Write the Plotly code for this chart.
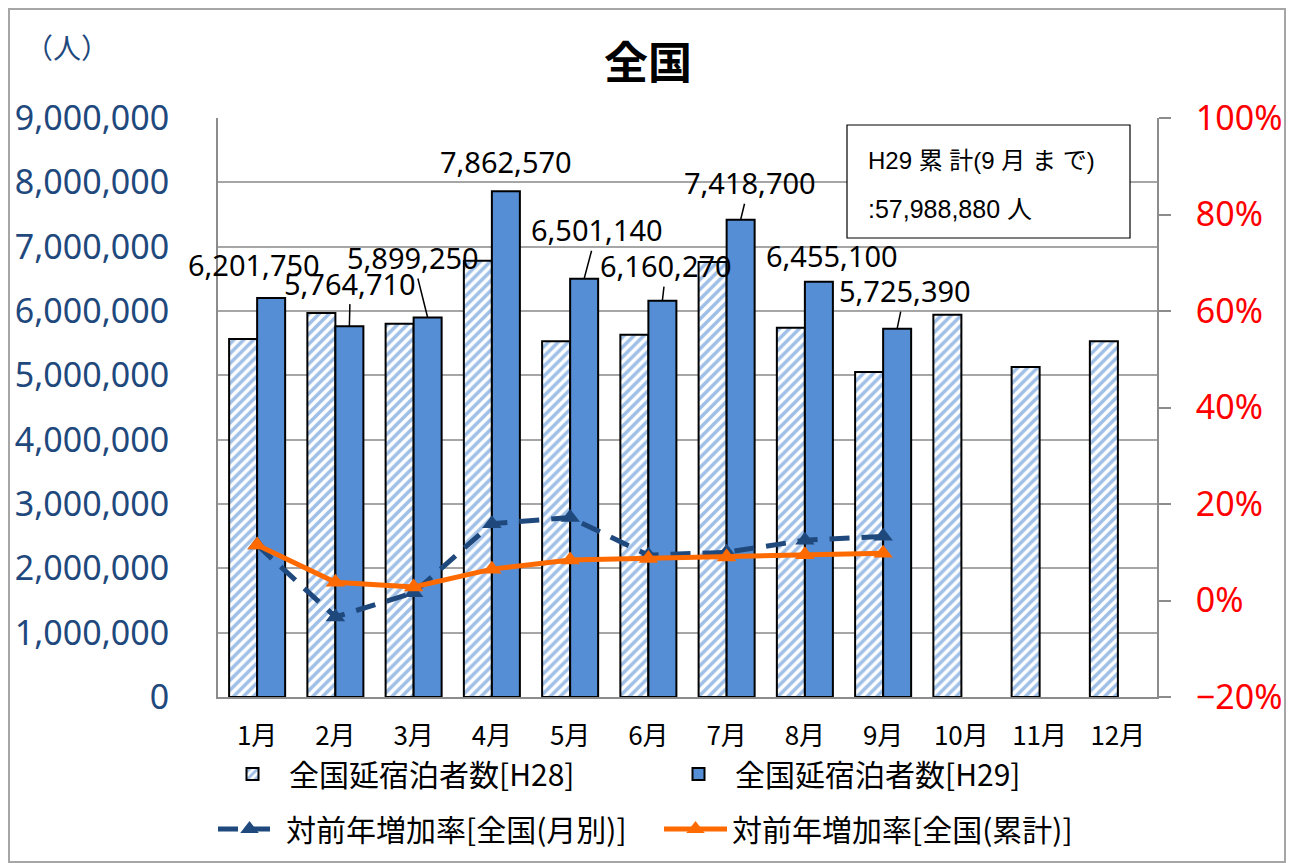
import plotly.graph_objects as go

months = ["1月", "2月", "3月", "4月", "5月", "6月", "7月", "8月", "9月", "10月", "11月", "12月"]
h28 = [5565000, 5970000, 5800000, 6780000, 5530000, 5630000, 6760000, 5740000, 5050000, 5940000, 5130000, 5530000]
h29 = [6201750, 5764710, 5899250, 7862570, 6501140, 6160270, 7418700, 6455100, 5725390]
rate_month = [0.115, -0.034, 0.016, 0.159, 0.172, 0.094, 0.100, 0.125, 0.133]
rate_cum = [0.115, 0.038, 0.028, 0.065, 0.084, 0.087, 0.090, 0.095, 0.098]
y_ticks = [0, 1000000, 2000000, 3000000, 4000000, 5000000, 6000000, 7000000, 8000000, 9000000]
y2_ticks = [-0.2, 0, 0.2, 0.4, 0.6, 0.8, 1.0]

# label offsets (px) relative to the H29 bar top, and whether a leader line is drawn
label_dx = [-17, 1, -15, 0, 13, 4, 9, 13, 8]
label_dy = [-34, -43, -60, -30, -49, -35, -37, -26, -38]
label_line = [False, True, True, False, True, True, True, False, True]

xs = list(range(len(months)))
FONT = "Noto Sans, Noto Sans CJK JP, sans-serif"
JFONT = "Noto Sans CJK JP, Noto Sans, sans-serif"
DARKBLUE = "#1F497D"

# page has an 8px body margin; plot area in reference pixels
PX0, PX1, PY0, PY1 = 218, 1157, 118, 697


def px(x):
    return (x - PX0) / (PX1 - PX0)


def py(y):
    return (PY1 - y) / (PY1 - PY0)


fig = go.Figure()
fig.add_trace(go.Bar(
    x=xs, y=h28, name="全国延宿泊者数[H28]",
    marker=dict(color="white", line=dict(color="black", width=2),
                pattern=dict(shape="/", fgcolor="#3F80D0", bgcolor="white", size=7, solidity=0.5)),
    yaxis="y", legend="legend",
))
fig.add_trace(go.Bar(
    x=xs[:len(h29)], y=h29, name="全国延宿泊者数[H29]",
    marker=dict(color="#558ED5", line=dict(color="black", width=2)),
    yaxis="y", legend="legend",
))
fig.add_trace(go.Scatter(
    x=xs[:len(rate_month)], y=rate_month, name="対前年増加率[全国(月別)]",
    mode="lines+markers", yaxis="y2", legend="legend2",
    line=dict(color=DARKBLUE, width=5, dash="20px,12px"),
    marker=dict(symbol="triangle-up", size=17, color=DARKBLUE),
))
fig.add_trace(go.Scatter(
    x=xs[:len(rate_cum)], y=rate_cum, name="対前年増加率[全国(累計)]",
    mode="lines+markers", yaxis="y2", legend="legend2",
    line=dict(color="#FF6A00", width=5),
    marker=dict(symbol="triangle-up", size=17, color="#FF6A00"),
))

bargap = 0.284
bw = (1 - bargap) / 2
annotations = []
for i, v in enumerate(h29):
    txt = f"{v:,}"
    if label_line[i]:
        annotations.append(dict(
            x=i + bw / 2, y=v, xref="x", yref="y", text=txt,
            showarrow=True, arrowhead=0, arrowwidth=1.5, arrowcolor="black",
            ax=label_dx[i], ay=label_dy[i], standoff=0,
            font=dict(family=FONT, size=29, color="black"),
        ))
    else:
        annotations.append(dict(
            x=i + bw / 2, y=v, xref="x", yref="y", text=txt,
            showarrow=False, xshift=label_dx[i], yshift=-label_dy[i],
            xanchor="center", yanchor="middle",
            font=dict(family=FONT, size=29, color="black"),
        ))

BOXFONT = "Liberation Sans, Noto Sans CJK JP"
annotations += [
    dict(x=px(648), y=py(60), xref="paper", yref="paper", text="<b>全国</b>",
         xanchor="center", yanchor="middle",
         showarrow=False, font=dict(family=JFONT, size=44, color="black")),
    dict(x=px(67), y=py(47), xref="paper", yref="paper", text="（人）",
         xanchor="center", yanchor="middle",
         showarrow=False, font=dict(family=JFONT, size=28, color=DARKBLUE)),
    dict(x=px(866), y=py(160), xref="paper", yref="paper", text="H29 累 計(9 月 ま で)",
         showarrow=False, xanchor="left", yanchor="middle",
         font=dict(family=BOXFONT, size=24, color="black")),
    dict(x=px(866), y=py(209), xref="paper", yref="paper", text=":57,988,880 人",
         showarrow=False, xanchor="left", yanchor="middle",
         font=dict(family=BOXFONT, size=25, color="black")),
]

shapes = [
    dict(type="rect", xref="paper", yref="paper", x0=px(847), x1=px(1130),
         y0=py(238), y1=py(125), line=dict(color="black", width=1.2), fillcolor="white", layer="above"),
    dict(type="rect", xref="paper", yref="paper", x0=px(9), x1=px(1285),
         y0=py(862), y1=py(9), line=dict(color="#A6A6A6", width=2), fillcolor="rgba(0,0,0,0)"),
]

legend_common = dict(orientation="h", xanchor="left", yanchor="middle",
                     entrywidth=368, entrywidthmode="pixels", itemwidth=63,
                     font=dict(family=JFONT, size=30, color="black"), bgcolor="rgba(0,0,0,0)")

fig.update_layout(
    width=1287, height=855,
    margin=dict(l=PX0 - 8, r=1287 - (PX1 - 8), t=PY0 - 8, b=855 - (PY1 - 8), autoexpand=False),
    paper_bgcolor="white", plot_bgcolor="white",
    barmode="group", bargap=bargap, bargroupgap=0,
    font=dict(family=FONT, color="black"),
    showlegend=True,
    legend=dict(x=px(216), y=py(774), **legend_common),
    legend2=dict(x=px(213), y=py(829), **legend_common),
    xaxis=dict(tickmode="array", tickvals=xs, ticktext=months, range=[-0.5, 11.5],
               showgrid=False, showline=True, linecolor="#8C8C8C", linewidth=2,
               ticks="", tickfont=dict(family=JFONT, size=26, color="black"), ticklabelstandoff=15),
    yaxis=dict(range=[0, 9000000], tickvals=y_ticks, tickformat=",", showgrid=True,
               gridcolor="#A6A6A6", gridwidth=2, showline=True, linecolor="#8C8C8C", linewidth=2,
               ticks="", zeroline=False, tickfont=dict(family=FONT, size=34, color=DARKBLUE),
               ticklabelstandoff=40),
    yaxis2=dict(range=[-0.2, 1.0], tickvals=y2_ticks, tickformat=".0%", overlaying="y", side="right",
                showgrid=False, zeroline=False, showline=True, linecolor="#8C8C8C", linewidth=2,
                ticks="outside", ticklen=12, tickcolor="#8C8C8C", tickwidth=2,
                tickfont=dict(family=FONT, size=34, color="red"), ticklabelstandoff=18),
    annotations=annotations, shapes=shapes,
)

fig.write_html("out.html")
